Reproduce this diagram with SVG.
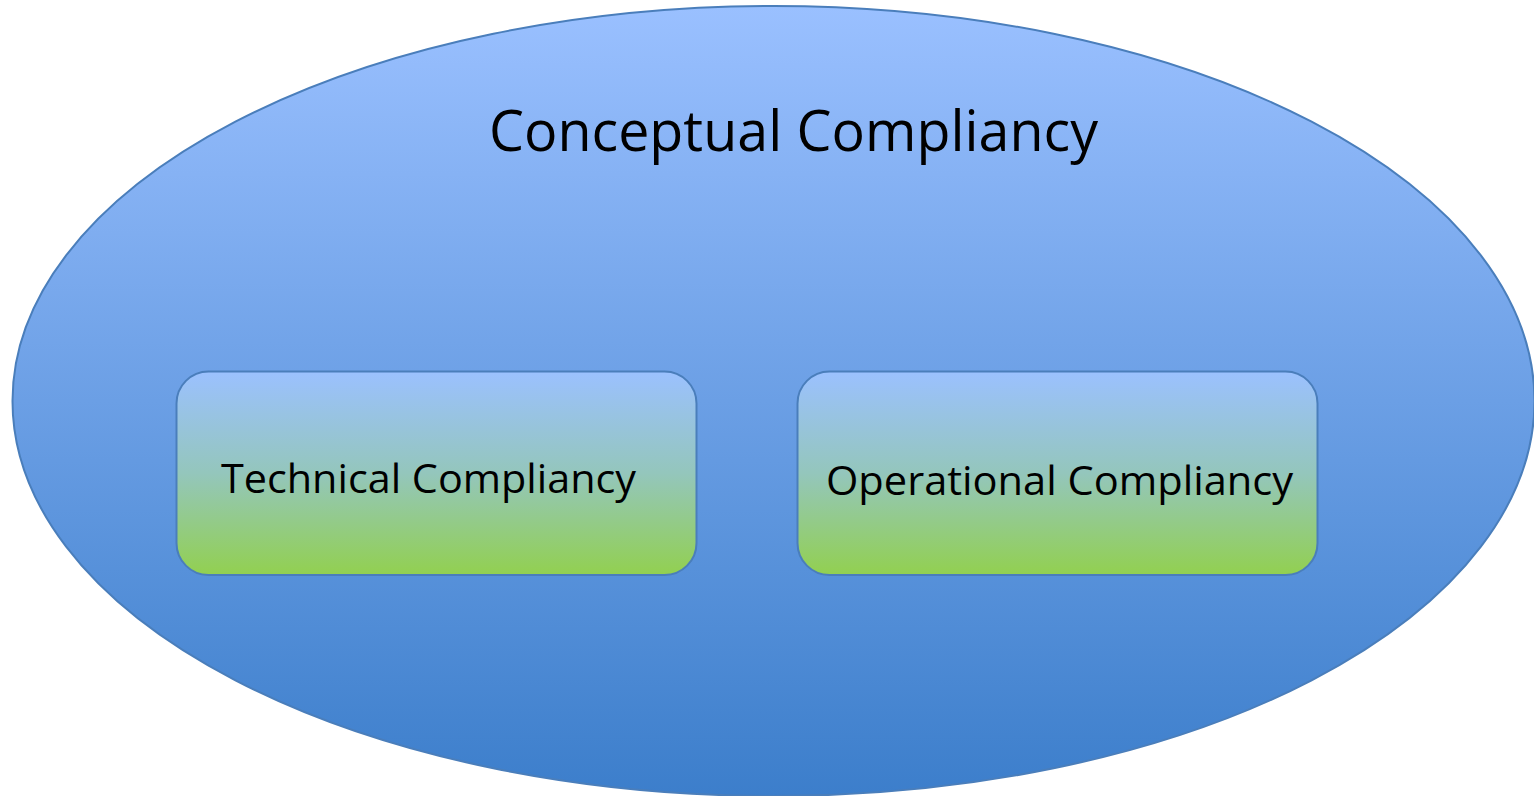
<svg xmlns="http://www.w3.org/2000/svg" width="1534" height="796" viewBox="0 0 1534 796">
<defs>
<linearGradient id="gOuter" x1="0" y1="0" x2="0" y2="1">
<stop offset="0" stop-color="#9AC0FF"/>
<stop offset="1" stop-color="#3C7ECB"/>
</linearGradient>
<linearGradient id="gBox" x1="0" y1="0" x2="0" y2="1">
<stop offset="0" stop-color="#9BC1FF"/>
<stop offset="0.5" stop-color="#94C6BC"/>
<stop offset="1" stop-color="#92D050"/>
</linearGradient>
<style>
.lbl{font-family:"Open Sans","Noto Sans","Liberation Sans",sans-serif;fill:#000;}
.box{fill:url(#gBox);stroke:#4A7EBB;stroke-width:2;}
</style>
</defs>
<rect width="1534" height="796" fill="#fff"/>
<g id="conceptual">
<ellipse cx="773.5" cy="401" rx="761" ry="395" fill="url(#gOuter)" stroke="#4A7EBB" stroke-width="2"/>
<text class="lbl" x="489" y="151" font-size="56" textLength="609" lengthAdjust="spacingAndGlyphs">Conceptual Compliancy</text>
</g>
<g id="technical">
<rect class="box" x="176.5" y="371.5" width="520" height="203.5" rx="32"/>
<text class="lbl" x="221" y="493" font-size="40" textLength="415" lengthAdjust="spacingAndGlyphs">Technical Compliancy</text>
</g>
<g id="operational">
<rect class="box" x="797.5" y="371.5" width="520" height="203.5" rx="32"/>
<text class="lbl" x="826" y="495" font-size="40" textLength="467" lengthAdjust="spacingAndGlyphs">Operational Compliancy</text>
</g>
<g id="connectors"/>
</svg>
